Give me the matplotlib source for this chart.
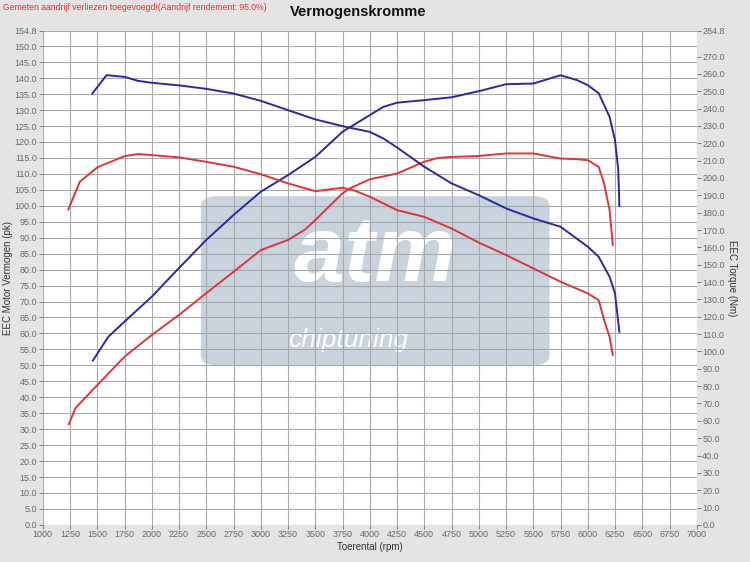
import matplotlib
matplotlib.use("Agg")
import matplotlib.pyplot as plt
from matplotlib.patches import FancyBboxPatch

plt.rcParams["font.family"] = ["Liberation Sans", "DejaVu Sans"]

# --- Data read from the dyno sheet ---------------------------------------
# tuned (blue) power, pk
rpm_pow_tuned = [1460, 1600, 1750, 2000, 2250, 2500, 2750, 3000, 3250, 3500, 3750,
                 4000, 4125, 4250, 4500, 4750, 5000, 5250, 5500, 5625, 5750, 5900,
                 6000, 6100, 6200, 6250, 6280, 6290]
pow_tuned = [51.5, 58.9, 63.7, 71.5, 80.5, 89.3, 97.1, 104.4, 109.6, 115.3, 123.2,
             128.4, 131.0, 132.3, 133.1, 134.0, 135.9, 138.1, 138.3, 139.6, 140.9, 139.4,
             137.8, 135.3, 127.9, 120.6, 111.2, 99.9]

# tuned (blue) torque, Nm
rpm_trq_tuned = [1455, 1585, 1750, 1875, 2000, 2250, 2500, 2750, 3000, 3250, 3500,
                 3750, 4000, 4125, 4250, 4500, 4750, 5000, 5250, 5500, 5750, 6000,
                 6100, 6200, 6250, 6290]
trq_tuned = [248.7, 259.3, 258.3, 256.0, 254.9, 253.4, 251.4, 248.7, 244.5, 239.1, 233.8,
             229.9, 226.6, 222.8, 217.6, 206.5, 196.9, 190.1, 182.5, 176.7, 171.9, 160.4,
             154.6, 143.1, 133.5, 111.4]

# stock (red) power, pk
rpm_pow_stock = [1240, 1300, 1500, 1750, 2000, 2250, 2500, 2750, 3000, 3250, 3400,
                 3500, 3750, 3820, 4000, 4250, 4500, 4630, 4750, 5000, 5250, 5500,
                 5750, 5900, 6000, 6100, 6150, 6200, 6230]
pow_stock = [31.6, 36.6, 43.8, 52.7, 59.5, 65.8, 72.6, 79.3, 86.1, 89.3, 92.4,
             95.5, 103.9, 105.5, 108.3, 110.1, 113.8, 115.0, 115.3, 115.6, 116.4, 116.4,
             114.8, 114.6, 114.3, 112.2, 107.0, 98.7, 87.7]

# stock (red) torque, Nm
rpm_trq_stock = [1235, 1340, 1500, 1750, 1875, 2000, 2250, 2500, 2750, 3000, 3250,
                 3500, 3750, 3850, 4000, 4250, 4500, 4750, 5000, 5250, 5500, 5750,
                 6000, 6100, 6150, 6200, 6230]
trq_stock = [181.9, 197.8, 206.1, 212.6, 213.8, 213.2, 211.9, 209.3, 206.5, 202.2, 196.9,
             192.4, 194.4, 193.0, 189.2, 181.5, 177.6, 170.9, 162.8, 155.6, 147.9, 140.2,
             133.5, 129.6, 118.1, 108.5, 98.0]

x_ticks = list(range(1000, 7001, 250))
left_ticks = [i * 5.0 for i in range(31)] + [154.8]
right_ticks = [i * 10.0 for i in range(28)] + [284.8]

blue = "#2a2a9c"
red = "#d8383a"
tick_grey = "#6a6a6a"

# --- Figure --------------------------------------------------------------
fig = plt.figure(figsize=(7.5, 5.62), dpi=100, facecolor="#e4e4e4")
ax = fig.add_axes([0.057, 0.066, 0.872, 0.879])
ax.set_facecolor("white")
ax2 = ax.twinx()

ax.set_xlim(1000, 7000)
ax.set_ylim(0, 154.8)
ax2.set_ylim(0, 284.8)

ax.set_xticks(x_ticks)
ax.set_yticks(left_ticks)
ax.set_yticklabels([f"{v:.1f}" for v in left_ticks])
ax2.set_yticks(right_ticks)
ax2.set_yticklabels([f"{v:.1f}" for v in right_ticks])

# grid drawn over the watermark, under the curves
ax.set_axisbelow(False)
ax.grid(True, color="#a9a9a9", linewidth=0.8, zorder=2)
for a in (ax, ax2):
    for s in a.spines.values():
        s.set_visible(False)
ax.tick_params(axis="both", labelsize=6.5, colors=tick_grey, length=3, width=0.6, pad=1)
ax2.tick_params(axis="y", labelsize=6.5, colors=tick_grey, length=3, width=0.6, pad=1)

# watermark logo
logo = FancyBboxPatch((2450, 50), 3200, 53,
                      boxstyle="round,pad=0,rounding_size=150",
                      mutation_aspect=53 / 3200 * 1.3,
                      facecolor="#c8d3dd", edgecolor="none", zorder=1.0)
ax.add_patch(logo)
ax.text(4050, 84, "atm", fontsize=66, fontweight="bold", fontstyle="italic",
        color="white", ha="center", va="center", zorder=1.1)
ax.text(3800, 58, "chiptuning", fontsize=19, fontstyle="italic",
        color="white", ha="center", va="center", zorder=1.1)

# curves
ax.plot(rpm_pow_tuned, pow_tuned, color=blue, lw=1.4, zorder=3)
ax.plot(rpm_pow_stock, pow_stock, color=red, lw=1.4, zorder=3)
ax2.plot(rpm_trq_tuned, trq_tuned, color=blue, lw=1.4, zorder=3)
ax2.plot(rpm_trq_stock, trq_stock, color=red, lw=1.4, zorder=3)

ax.set_xlabel("Toerental (rpm)", fontsize=7, color="#333333", labelpad=2)
ax.set_ylabel("EEC Motor Vermogen (pk)", fontsize=7, color="#333333", labelpad=1)
ax2.set_ylabel("EEC Torque (Nm)", fontsize=7, color="#333333", rotation=270, labelpad=9)

fig.text(0.477, 0.979, "Vermogenskromme", fontsize=10.5, fontweight="bold",
         ha="center", va="center", color="#111111")
fig.text(0.004, 0.987, "Gemeten aandrijf verliezen toegevoegd!(Aandrijf rendement: 95.0%)",
         fontsize=6.2, color="#e03030", ha="left", va="center")

fig.savefig("out.png", dpi=100, facecolor=fig.get_facecolor())
